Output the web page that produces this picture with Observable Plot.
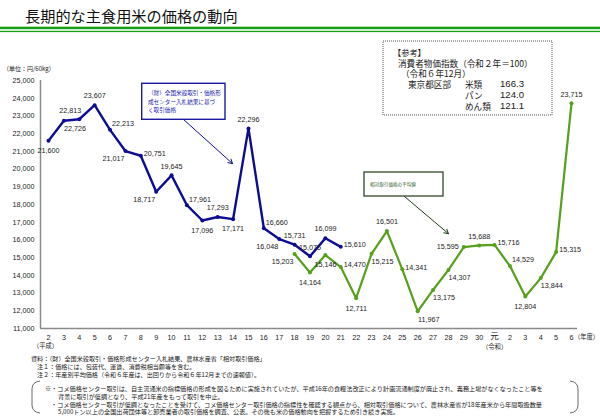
<!DOCTYPE html>
<html><head><meta charset="utf-8">
<script src="https://cdn.jsdelivr.net/npm/d3@7"></script>
<script src="https://cdn.jsdelivr.net/npm/@observablehq/plot@0.6"></script>
<style>
html,body{margin:0;padding:0;background:#fff;}
#wrap{position:relative;width:600px;height:416px;overflow:hidden;background:#fff;}
#wrap > svg{position:absolute;left:0;top:0;}
</style></head><body><div id="wrap"></div>
<script>
// x categories: 平成2〜30年度, 令和元〜6年度
const yearLabels = ["2","3","4","5","6","7","8","9","10","11","12","13","14","15","16","17","18","19","20","21","22","23","24","25","26","27","28","29","30","元","2","3","4","5","6"];
// (財)全国米穀取引・価格形成センター入札結果に基づく取引価格 (平成2〜21年産)
const centerValues = [21600,22726,22813,23607,22213,21017,20751,18717,19645,17961,17096,17293,17171,22296,16660,16048,15731,15075,16099,15610];
const centerFirstIndex = 0;
// 相対取引価格の平均値 (平成18年産〜令和6年産)
const aitaiValues = [15203,14164,15146,14470,12711,15215,16501,14341,11967,13175,14307,15595,15688,15716,14529,12804,13844,15315,23715];
const aitaiFirstIndex = 16;
// label placement codes
const centerPlacement = ["s","se","nw","n","ne","sw","e","sw","n","ne","s","n","s","n","ne","sw","n","n","n","e"];
const aitaiPlacement = ["sw","s","s","e","s","se","n","e","se","se","se","w","n","e","ne","s","se","e","n"];
const yTicks = d3.range(11000, 25001, 1000);

const fmt = d3.format(",");
const offsets = {n:[0,-9], s:[0,10], e:[14,-2], ne:[13,-6], se:[11,8], w:[-16,0], sw:[-12,8], nw:[-9,-9]};
const BLUE = "#0c0c94", GREEN = "#56a01c";
const numFont = "Liberation Sans, Arial, sans-serif";
const jpFont = "Noto Sans CJK JP, sans-serif";

const centerRows = centerValues.map((v,i)=>({x: centerFirstIndex+i, v, pos: centerPlacement[i]}));
const aitaiRows = aitaiValues.map((v,i)=>({x: aitaiFirstIndex+i, v, pos: aitaiPlacement[i]}));
const allRows = centerRows.concat(aitaiRows);
const xDomain = [-0.52, 34.39];

const labelMarks = Object.entries(offsets).map(([k,[dx,dy]]) =>
  Plot.text(allRows, {filter: d=>d.pos===k, x:"x", y:"v", text: d=>fmt(d.v), dx, dy,
    fontSize:7.2, fontFamily:numFont, fill:"#222"}));

const chart = Plot.plot({
  width:600, height:416, marginLeft:40, marginRight:23, marginTop:80, marginBottom:88,
  style:{background:"transparent", fontFamily:numFont},
  x:{type:"linear", domain:xDomain, axis:null},
  y:{type:"linear", domain:[11000,25000], axis:null},
  marks:[
    Plot.text(yTicks, {y:d=>d, text:d=>fmt(d), frameAnchor:"left", dx:-6, textAnchor:"end", fontSize:7.2, fontFamily:numFont, fill:"#222"}),
    Plot.ruleX([xDomain[0]], {stroke:"#8a8a8a", strokeWidth:1.5}),
    Plot.ruleY([11000], {stroke:"#8a8a8a", strokeWidth:1.5}),
    Plot.text(yearLabels, {filter:d=>d!=="元", x:(d,i)=>i, frameAnchor:"bottom", lineAnchor:"top", dy:6, fontSize:7.2, fontFamily:numFont, fill:"#222"}),
    Plot.text(yearLabels, {filter:d=>d==="元", x:(d,i)=>i, frameAnchor:"bottom", lineAnchor:"top", dy:4.5, fontSize:8.5, fontFamily:jpFont, fill:"#222"}),
    Plot.text(["（平成）"], {x:0, frameAnchor:"bottom", lineAnchor:"top", dy:15, dx:-3, fontSize:6.3, fontFamily:jpFont, fill:"#222"}),
    Plot.text(["（令和）"], {x:yearLabels.indexOf("元"), frameAnchor:"bottom", lineAnchor:"top", dy:16, fontSize:6.3, fontFamily:jpFont, fill:"#222"}),
    Plot.text(["（年度）"], {x:yearLabels.length-1, frameAnchor:"bottom", lineAnchor:"top", dy:6, dx:15, fontSize:6.3, fontFamily:jpFont, fill:"#222"}),
    Plot.line(centerRows, {x:"x", y:"v", stroke:BLUE, strokeWidth:2.4}),
    Plot.dot(centerRows, {x:"x", y:"v", r:2, fill:BLUE}),
    Plot.line(aitaiRows, {x:"x", y:"v", stroke:GREEN, strokeWidth:2.2}),
    Plot.dot(aitaiRows, {x:"x", y:"v", r:2, fill:GREEN}),
    Plot.arrow([{x1:8.78, y1:22798, x2:11.96, y2:20310}], {x1:"x1", y1:"y1", x2:"x2", y2:"y2", stroke:BLUE, strokeWidth:1, headLength:7}),
    Plot.arrow([{x1:23.15, y1:18447, x2:26.0, y2:16354}], {x1:"x1", y1:"y1", x2:"x2", y2:"y2", stroke:"#1e3a14", strokeWidth:1, headLength:7}),
    ...labelMarks
  ]
});
const wrap = document.getElementById("wrap");
wrap.appendChild(chart);

// decorations overlay
const svg = d3.select(wrap).append("svg").attr("width",600).attr("height",416)
  .style("font-family", jpFont);
function txt(x,y,s,size,opts={}){
  return svg.append("text").attr("x",x).attr("y",y).attr("dominant-baseline","central")
    .attr("font-size",size).attr("fill",opts.fill||"#1a1a1a").attr("text-anchor",opts.anchor||"start")
    .attr("font-family",opts.font||null)
    .text(s);
}
// title
txt(25,15,"長期的な主食用米の価格の動向",15.2,{fill:"#111"});
svg.append("rect").attr("x",0).attr("y",26.7).attr("width",600).attr("height",2.5).attr("fill","#13a013");
svg.append("rect").attr("x",0).attr("y",30.8).attr("width",600).attr("height",1.3).attr("fill","#13a013");
// unit
txt(3,68,"（単位：円/60kg）",6,{fill:"#222"});
// blue annotation box
svg.append("rect").attr("x",141.7).attr("y",83.3).attr("width",83.3).attr("height",36).attr("fill","#fff").attr("stroke","#1a1aa0").attr("stroke-width",1.4);
txt(148,93.3,"（財）全国米穀取引・価格形",5.6,{fill:"#2424b0"});
txt(148,101.6,"成センター入札結果に基づ",5.6,{fill:"#2424b0"});
txt(148,109.6,"く取引価格",5.6,{fill:"#2424b0"});
// green annotation box
svg.append("rect").attr("x",364).attr("y",172).attr("width",79).attr("height",24).attr("fill","#fff").attr("stroke","#1e3a14").attr("stroke-width",1.2);
txt(370,183.5,"相対取引価格の平均値",4.6,{fill:"#2d5a1a"});
// reference box
svg.append("rect").attr("x",383).attr("y",41).attr("width",169).attr("height",74).attr("fill","none").attr("stroke","#555").attr("stroke-width",1).attr("stroke-dasharray","1,1");
txt(393,52,"【参考】",8.2);
txt(398,63,"消費者物価指数（令和２年＝100）",8.6);
txt(401,73.3,"（令和６年12月）",8.6);
txt(408,83.5,"東京都区部",8.6);
txt(465,83.5,"米類",8.6);
txt(500,83.5,"166.3",9.6,{font:numFont});
txt(465,94.5,"パン",8.6);
txt(500,94.5,"124.0",9.6,{font:numFont});
txt(465,105.5,"めん類",8.6);
txt(500,105.5,"121.1",9.6,{font:numFont});
// notes
txt(31,358,"資料：（財）全国米穀取引・価格形成センター入札結果、農林水産省「相対取引価格」",6.1);
txt(37,366,"注１：価格には、包装代、運賃、消費税相当額等を含む。",6.1);
txt(37,374,"注２：年産別平均価格（令和６年産は、出回りから令和６年12月までの速報値）。",6.1);
svg.append("path").attr("d","M40,381 Q32,382 32,389 L32,405 Q32,412 40,413").attr("fill","none").attr("stroke","#444").attr("stroke-width",0.8);
svg.append("path").attr("d","M570,381 Q578,382 578,389 L578,405 Q578,412 570,413").attr("fill","none").attr("stroke","#444").attr("stroke-width",0.8);
txt(45,388.5,"※・コメ価格センター取引は、自主流通米の指標価格の形成を図るために実施されていたが、平成16年の食糧法改正により計画流通制度が廃止され、義務上場がなくなったこと等を",6.15);
txt(58,396.5,"背景に取引が低調となり、平成21年産をもって取引を中止。",6.15);
txt(51,404,"・コメ価格センター取引が低調となったことを受けて、コメ価格センター取引価格の指標性を確認する観点から、相対取引価格について、農林水産省が18年産米から年間取扱数量",6.15);
txt(58,411.5,"5,000トン以上の全国出荷団体等と卸売業者の取引価格を調査、公表。その後も米の価格動向を把握するため引き続き実施。",6.15);
</script></body></html>
